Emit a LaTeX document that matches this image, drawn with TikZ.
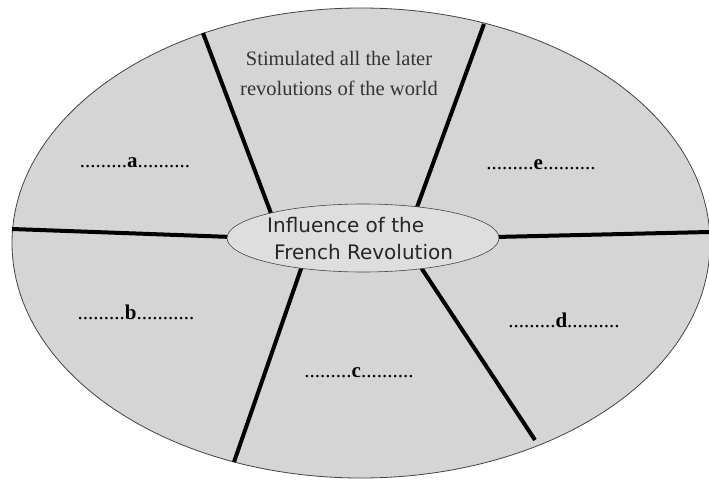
\documentclass[tikz,border=0pt]{standalone}
\usepackage{fontspec}
\setmainfont{Liberation Serif}
\newfontfamily\ctrfont{DejaVu Sans}
\usetikzlibrary{shapes.geometric}
\definecolor{fillgray}{HTML}{D5D5D5}
\definecolor{innergray}{HTML}{DEDEDE}
\definecolor{edgegray}{HTML}{444444}
\begin{document}
\begin{tikzpicture}[x=1pt,y=-1pt,
  spoke/.style={line width=4pt,black},
  blank/.style={font=\fontsize{21}{24}\selectfont, inner sep=0pt},
  topnote/.style={font=\fontsize{20.5}{30}\selectfont, align=center, text=black!80},
  ctrline/.style={font=\ctrfont\fontsize{20}{22}\selectfont, inner sep=0pt, text=black!85, anchor=west}]
\useasboundingbox (0,0) rectangle (709,481);
\fill[white] (0,0) rectangle (709,481);
\node[ellipse, draw=edgegray, line width=0.8pt, fill=fillgray,
      minimum width=698pt, minimum height=470pt, inner sep=0pt] (outer) at (361,243) {};
% spoke ends
\coordinate (tl1) at (203,33);  \coordinate (tl2) at (272,216);
\coordinate (tr1) at (484,24);  \coordinate (tr2) at (416,210);
\coordinate (l1)  at (12,229);  \coordinate (l2)  at (232,237);
\coordinate (r1)  at (709,232); \coordinate (r2)  at (495,237);
\coordinate (bl1) at (234,462); \coordinate (bl2) at (302,266);
\coordinate (br1) at (535,440); \coordinate (br2) at (420,266);
\draw[spoke] (tl1) -- (tl2);
\draw[spoke] (tr1) -- (tr2);
\draw[spoke] (l1) -- (l2);
\draw[spoke] (r1) -- (r2);
\draw[spoke] (bl1) -- (bl2);
\draw[spoke] (br1) -- (br2);
\node[ellipse, draw=edgegray, line width=0.6pt, fill=innergray,
      minimum width=272pt, minimum height=68pt, inner sep=0pt] (ctr) at (363,238) {};
\node[ctrline] (ctrA) at (267,225) {Influence of the};
\node[ctrline] (ctrB) at (274,252) {French Revolution};
\node[topnote] (top) at (339,73) {Stimulated all the later\\revolutions of the world};
\node[blank] (a) at (135,163) {.........\textbf{a}..........};
\node[blank] (b) at (136,312) {.........\textbf{b}...........};
\node[blank] (c) at (359,373) {.........\textbf{c}..........};
\node[blank] (d) at (564,320) {.........\textbf{d}..........};
\node[blank] (e) at (541,165) {.........\textbf{e}..........};
\end{tikzpicture}
\end{document}
